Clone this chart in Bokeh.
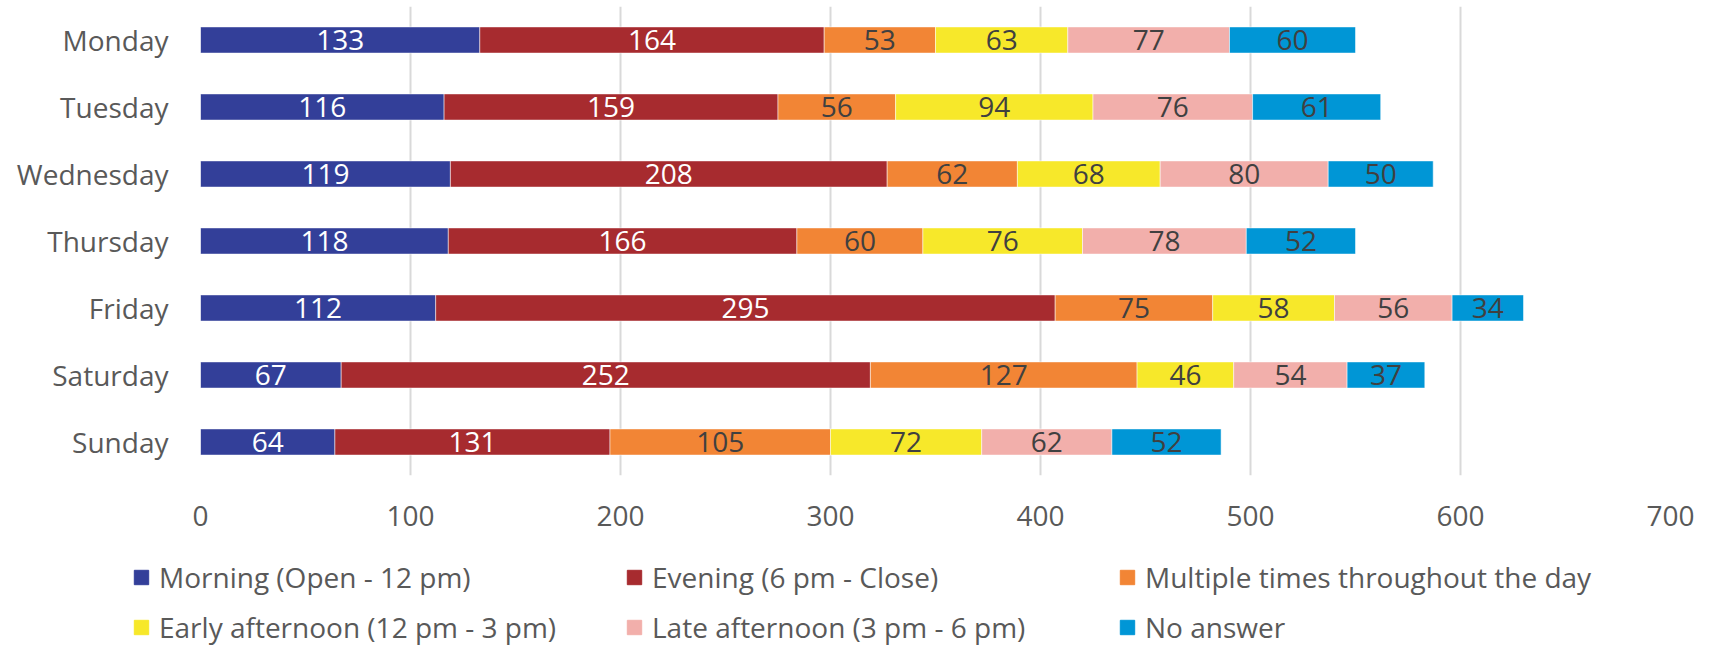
from bokeh.plotting import figure
from bokeh.models import Range1d, FactorRange, Legend, LegendItem, ColumnDataSource
from bokeh.embed import file_html
from bokeh.resources import INLINE
from bokeh.core.properties import value

days = ["Monday", "Tuesday", "Wednesday", "Thursday", "Friday", "Saturday", "Sunday"]
series_names = [
    "Morning (Open - 12 pm)",
    "Evening (6 pm - Close)",
    "Multiple times throughout the day",
    "Early afternoon (12 pm - 3 pm)",
    "Late afternoon (3 pm - 6 pm)",
    "No answer",
]
morning = [133, 116, 119, 118, 112, 67, 64]
evening = [164, 159, 208, 166, 295, 252, 131]
multiple = [53, 56, 62, 60, 75, 127, 105]
early_afternoon = [63, 94, 68, 76, 58, 46, 72]
late_afternoon = [77, 76, 80, 78, 56, 54, 62]
no_answer = [60, 61, 50, 52, 34, 37, 52]
x_ticks = [0, 100, 200, 300, 400, 500, 600, 700]

colors = ["#333F99", "#A72B2F", "#F28535", "#F7E82A", "#F2AFAB", "#0096D6"]
label_colors = ["#FFFFFF", "#FFFFFF", "#404040", "#404040", "#404040", "#404040"]
FONT = "Open Sans"

series = [morning, evening, multiple, early_afternoon, late_afternoon, no_answer]
keys = ["s%d" % i for i in range(len(series))]
data = {"day": days}
for k, s in zip(keys, series):
    data[k] = s
src = ColumnDataSource(data)

p = figure(
    y_range=FactorRange(factors=days[::-1]),
    x_range=Range1d(0, 700),
    width=1704, height=540,
    output_backend="svg", toolbar_location=None,
    min_border_left=200, min_border_right=34,
    min_border_top=6, min_border_bottom=65,
)
p.outline_line_color = None
p.background_fill_color = "white"

renderers = p.hbar_stack(keys, y="day", height=0.39, color=colors, source=src,
                         line_color="white", line_width=1, line_alpha=0.5)

# data labels
cum = [0] * len(days)
for s, lc in zip(series, label_colors):
    xs = [c + v / 2 for c, v in zip(cum, s)]
    cum = [c + v for c, v in zip(cum, s)]
    lsrc = ColumnDataSource(dict(x=xs, y=days, t=[str(v) for v in s]))
    p.text(x="x", y="y", text="t", source=lsrc, text_align="center",
           text_baseline="middle", text_font=value(FONT),
           text_font_size="28px", text_color=lc)

# axes
p.xaxis.ticker = x_ticks
p.xaxis.axis_line_color = None
p.xaxis.major_tick_line_color = None
p.xaxis.minor_tick_line_color = None
p.xaxis.major_label_standoff = 24
p.xaxis.major_label_text_font = FONT
p.xaxis.major_label_text_font_size = "28px"
p.xaxis.major_label_text_color = "#595959"

p.yaxis.axis_line_color = None
p.yaxis.major_tick_line_color = None
p.yaxis.minor_tick_line_color = None
p.yaxis.major_label_standoff = 26
p.yaxis.major_label_text_font = FONT
p.yaxis.major_label_text_font_size = "28px"
p.yaxis.major_label_text_color = "#595959"

p.xgrid.grid_line_color = "#D9D9D9"
p.xgrid.grid_line_width = 2
p.ygrid.grid_line_color = None

# legend figure (separate root so its frame starts at the page's left edge)
p2 = figure(width=1704, height=107, output_backend="svg", toolbar_location=None,
            x_range=Range1d(0, 1), y_range=Range1d(0, 1),
            min_border_left=0, min_border_right=0, min_border_top=0, min_border_bottom=0)
p2.axis.visible = False
p2.grid.grid_line_color = None
p2.outline_line_color = None
# legend proxies, kept outside the visible range
legend_renderers = [p2.hbar(y=[5], right=[5], left=[4], height=0.5, color=c) for c in colors]

items = [LegendItem(label=n, renderers=[r]) for n, r in zip(series_names, legend_renderers)]
legend = Legend(
    items=items, location=(132, 1), orientation="horizontal", ncols=3,
    glyph_width=18, glyph_height=18, label_standoff=9, label_width=454,
    label_height=38, spacing=12, padding=0, margin=0,
    border_line_color=None, background_fill_alpha=0,
    label_text_font=FONT, label_text_font_size="28px",
    label_text_color="#595959",
)
p2.add_layout(legend, "center")

open("out.html", "w").write(file_html([p, p2], INLINE))
